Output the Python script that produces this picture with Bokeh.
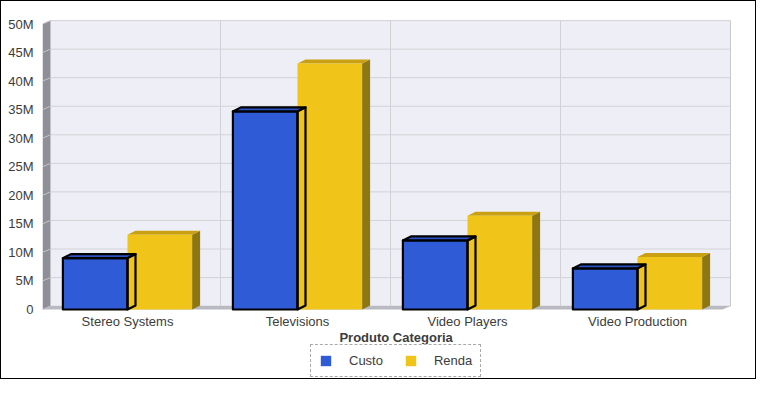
from bokeh.plotting import figure
from bokeh.models import FixedTicker, Range1d, Legend, LegendItem
from bokeh.core.properties import value
from bokeh.embed import file_html
from bokeh.resources import INLINE

# ---- data (values in millions) ----
categories = ["Stereo Systems", "Televisions", "Video Players", "Video Production"]
custo = [9.0, 34.7, 12.1, 7.2]
renda = [13.1, 43.1, 16.4, 9.2]
y_ticks = [0, 5, 10, 15, 20, 25, 30, 35, 40, 45, 50]
y_tick_labels = ["0", "5M", "10M", "15M", "20M", "25M", "30M", "35M", "40M", "45M", "50M"]
x_title = "Produto Categoria"
series_names = ["Custo", "Renda"]

# ---- style / geometry constants ----
W, H = 756, 379
FONT = "Liberation Sans"
PX_X = 170.0          # px per category
PX_Y = 5.71           # px per million
BORDER_L, BORDER_T = 41, 18
frame_w = W - BORDER_L
frame_h = H - BORDER_T
ZERO_FROM_TOP = 290.0  # px from frame top to front zero line
y_end = ZERO_FROM_TOP / PX_Y
y_start = y_end - frame_h / PX_Y
x_end = frame_w / PX_X

dxw, dyw = 8 / PX_X, 3.4 / PX_Y      # wall depth
dxb, dyb = 8 / PX_X, 4.0 / PX_Y      # bar depth
ncat = len(categories)
ymax = y_ticks[-1]
bar_w = 0.38
bar_off = 0.12

BLUE, BLUE_TOP = "#2f5bd6", "#2a52c4"
GOLD, GOLD_TOP, GOLD_SIDE = "#f0c419", "#c9a012", "#8e7711"
TXT = "#3c3c3c"

p = figure(width=W, height=H, output_backend="svg", toolbar_location=None,
           x_range=Range1d(0, x_end), y_range=Range1d(y_start, y_end),
           x_axis_location=None, min_border_left=BORDER_L, min_border_top=BORDER_T,
           min_border_right=0, min_border_bottom=0)
p.styles = {"border": "1px solid black"}
p.outline_line_color = None
p.background_fill_color = "white"
p.border_fill_color = "white"
p.xgrid.visible = False
p.ygrid.visible = False

ax = p.yaxis[0]
ax.ticker = FixedTicker(ticks=y_ticks)
ax.major_label_overrides = {t: l for t, l in zip(y_ticks, y_tick_labels)}
ax.axis_line_color = None
ax.major_tick_line_color = None
ax.minor_tick_line_color = None
ax.major_tick_out = 0
ax.major_tick_in = 0
ax.major_label_standoff = 9
ax.major_label_text_font = FONT
ax.major_label_text_font_size = "13px"
ax.major_label_text_color = TXT

# back wall
p.quad(left=[dxw], right=[ncat + dxw], bottom=[dyw], top=[ymax + dyw],
       fill_color="#eeeef6", line_color=None)
# horizontal gridlines
p.segment(x0=[dxw] * len(y_ticks), x1=[ncat + dxw] * len(y_ticks),
          y0=[t + dyw for t in y_ticks], y1=[t + dyw for t in y_ticks],
          line_color="#d2d2d6", line_width=1)
# vertical gridlines
vx = [i + dxw for i in range(1, ncat)]
p.segment(x0=vx, x1=vx, y0=[dyw] * len(vx), y1=[ymax + dyw] * len(vx),
          line_color="#d2d2d6", line_width=1)
# wall border (right)
p.segment(x0=[ncat + dxw], x1=[ncat + dxw], y0=[dyw], y1=[ymax + dyw],
          line_color="#c8c8cc", line_width=1)
# left wall
p.patch(x=[0, dxw, dxw, 0], y=[0, dyw, ymax + dyw, ymax],
        fill_color="#8f8f97", line_color=None)
p.segment(x0=[0] * len(y_ticks), x1=[dxw] * len(y_ticks),
          y0=y_ticks, y1=[t + dyw for t in y_ticks],
          line_color="#c4c4cc", line_width=1)
# floor
p.patch(x=[0, ncat, ncat + dxw, dxw], y=[0, 0, dyw, dyw],
        fill_color="#b9b9c1", line_color=None)

# bars
def faces(vals, x0s):
    x1s = [x + bar_w for x in x0s]
    tops_x = [[a, b, b + dxb, a + dxb] for a, b in zip(x0s, x1s)]
    tops_y = [[v, v, v + dyb, v + dyb] for v in vals]
    side_x = [[b, b + dxb, b + dxb, b] for b in x1s]
    side_y = [[0, dyb, v + dyb, v] for v in vals]
    return x1s, tops_x, tops_y, side_x, side_y

gx0 = [i + bar_off + bar_w for i in range(ncat)]
gx1, gtx, gty, gsx, gsy = faces(renda, gx0)
p.patches(xs=gsx, ys=gsy, fill_color=GOLD_SIDE, line_color=None)
p.patches(xs=gtx, ys=gty, fill_color=GOLD_TOP, line_color=None)
r_gold = p.quad(left=gx0, right=gx1, bottom=[0] * ncat, top=renda, fill_color=GOLD, line_color=None)

bx0 = [i + bar_off for i in range(ncat)]
bx1, btx, bty, bsx, bsy = faces(custo, bx0)
r_blue = p.quad(left=bx0, right=bx1, bottom=[0] * ncat, top=custo, fill_color=BLUE, line_color=None)
p.quad(left=bx0, right=bx1, bottom=[0] * ncat, top=custo, fill_alpha=0,
       line_color="black", line_width=2.2, line_join="round")
p.patches(xs=btx, ys=bty, fill_color=BLUE_TOP, line_color="black", line_width=2.2, line_join="round")
p.patches(xs=bsx, ys=bsy, fill_alpha=0, line_color="black", line_width=2.2, line_join="round")

# category labels
p.text(x=[i + 0.5 for i in range(ncat)], y=[-12.0 / PX_Y] * ncat, text=categories,
       text_font=value(FONT), text_font_size="13px", text_color=TXT,
       text_align="center", text_baseline="middle")
# axis title
p.text(x=[2.08], y=[-28.0 / PX_Y], text=[x_title], text_font=value(FONT),
       text_font_size="13px", text_font_style="bold", text_color=TXT,
       text_align="center", text_baseline="middle")

# legend
legend = Legend(items=[LegendItem(label=series_names[0], renderers=[r_blue]),
                       LegendItem(label=series_names[1], renderers=[r_gold])],
                orientation="horizontal", location=(268, 3),
                glyph_width=13, glyph_height=13, label_standoff=17, spacing=21,
                padding=8, margin=0, label_height=13,
                label_text_font=FONT, label_text_font_size="13px", label_text_color=TXT,
                border_line_color="#555555", border_line_dash="4 2", border_line_width=1.5,
                background_fill_color="white", background_fill_alpha=1)
p.add_layout(legend, "center")

open("out.html", "w").write(file_html(p, INLINE))
